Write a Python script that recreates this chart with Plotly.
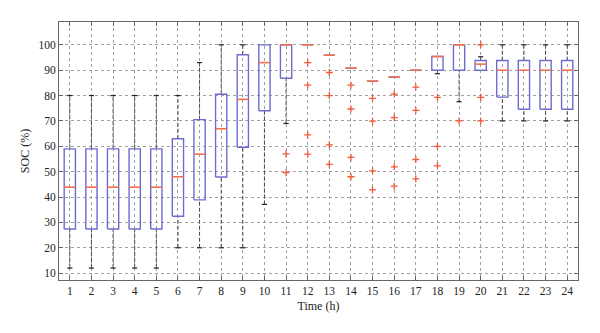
import plotly.graph_objects as go

# ---- data ----
hours = list(range(1, 25))
q1 = [27.4, 27.4, 27.4, 27.4, 27.4, 32.4, 38.9, 47.9, 59.6, 74.0, 86.8, 100.0,
      95.9, 90.8, 85.7, 87.3, 90.0, 90.0, 90.0, 90.0, 79.4, 74.6, 74.6, 74.6]
medians = [43.9, 43.9, 43.9, 43.9, 43.9, 48.0, 56.9, 66.9, 78.5, 93.0, 100.0, 100.0,
           95.9, 90.8, 85.7, 87.3, 90.0, 95.4, 100.0, 92.4, 90.0, 90.0, 90.0, 90.0]
q3 = [59.0, 59.0, 59.0, 59.0, 59.0, 63.0, 70.5, 80.5, 96.1, 100.0, 100.0, 100.0,
      95.9, 90.8, 85.7, 87.3, 90.0, 95.4, 100.0, 93.8, 93.8, 93.8, 93.8, 93.8]
lower_whisker = [12.0, 12.0, 12.0, 12.0, 12.0, 20.0, 20.0, 20.0, 20.0, 37.1, 69.0, 100.0,
                 95.9, 90.8, 85.7, 87.3, 90.0, 88.6, 77.6, 90.0, 70.0, 70.0, 70.0, 70.0]
upper_whisker = [80.0, 80.0, 80.0, 80.0, 80.0, 80.0, 93.0, 100.0, 100.0, 100.0, 100.0, 100.0,
                 95.9, 90.8, 85.7, 87.3, 90.0, 95.4, 100.0, 95.3, 100.0, 100.0, 100.0, 100.0]
outlier_hours = [11, 11,
                 12, 12, 12, 12,
                 13, 13, 13, 13,
                 14, 14, 14, 14,
                 15, 15, 15, 15,
                 16, 16, 16, 16,
                 17, 17, 17, 17,
                 18, 18, 18,
                 19,
                 20, 20, 20]
outlier_values = [57.0, 49.6,
                  93.0, 84.1, 64.5, 56.9,
                  89.1, 80.0, 60.6, 52.9,
                  84.1, 74.7, 55.6, 48.0,
                  78.9, 69.9, 50.3, 42.8,
                  80.6, 71.3, 51.9, 44.3,
                  83.3, 74.2, 54.8, 47.2,
                  79.3, 60.0, 52.3,
                  70.0,
                  100.0, 79.3, 70.0]
y_ticks = [10, 20, 30, 40, 50, 60, 70, 80, 90, 100]

# ---- styling ----
BOX_COLOR = "#6c6cd0"
MED_COLOR = "#f2704e"
OUT_COLOR = "#f25a3a"
WHISK_COLOR = "#4a4a4a"
half_w = 0.26
cap_w = 0.12
FONT = "Liberation Serif"

# build segments
wx, wy = [], []
cx, cy = [], []
bx, by = [], []
mx, my = [], []
for h, a, m, b, lo, hi in zip(hours, q1, medians, q3, lower_whisker, upper_whisker):
    if lo < a:
        wx += [h, h, None]; wy += [lo, a, None]
        cx += [h - cap_w, h + cap_w, None]; cy += [lo, lo, None]
    if hi > b:
        wx += [h, h, None]; wy += [b, hi, None]
        cx += [h - cap_w, h + cap_w, None]; cy += [hi, hi, None]
    bx += [h - half_w, h + half_w, h + half_w, h - half_w, h - half_w, None]
    by += [a, a, b, b, a, None]
    mx += [h - half_w, h + half_w, None]; my += [m, m, None]

fig = go.Figure()
fig.add_trace(go.Scatter(x=wx, y=wy, mode="lines",
                         line=dict(color=WHISK_COLOR, width=1, dash="4px,2px"),
                         hoverinfo="skip", showlegend=False))
fig.add_trace(go.Scatter(x=cx, y=cy, mode="lines",
                         line=dict(color="#222222", width=1.2),
                         hoverinfo="skip", showlegend=False))
fig.add_trace(go.Scatter(x=bx, y=by, mode="lines",
                         line=dict(color=BOX_COLOR, width=1.4),
                         hoverinfo="skip", showlegend=False))
fig.add_trace(go.Scatter(x=mx, y=my, mode="lines",
                         line=dict(color=MED_COLOR, width=1.6),
                         hoverinfo="skip", showlegend=False))
fig.add_trace(go.Scatter(x=outlier_hours, y=outlier_values, mode="markers",
                         marker=dict(symbol="cross-thin", size=5, color=OUT_COLOR,
                                     line=dict(width=1.3, color=OUT_COLOR)),
                         hoverinfo="skip", showlegend=False))

axis_common = dict(
    showline=True, linecolor="#666666", linewidth=1, mirror="ticks",
    ticks="inside", ticklen=4, tickcolor="#666666",
    showgrid=True, gridcolor="#a0a0a0", griddash="dot", gridwidth=1,
    zeroline=False,
    tickfont=dict(family=FONT, size=11.5, color="#222222"),
)

fig.update_layout(
    width=600, height=333,
    margin=dict(l=59, r=22, t=22, b=53),
    paper_bgcolor="white", plot_bgcolor="white",
    font=dict(family=FONT, color="#222222"),
    xaxis=dict(range=[0.5, 24.5], tickmode="array", tickvals=hours,
               ticktext=[str(h) for h in hours],
               title=dict(text="Time (h)", font=dict(family=FONT, size=12), standoff=5),
               **axis_common),
    yaxis=dict(range=[7.3, 109], tickmode="array", tickvals=y_ticks,
               ticktext=[str(v) for v in y_ticks],
               title=dict(text="SOC (%)", font=dict(family=FONT, size=12), standoff=6),
               **axis_common),
)

fig.write_html("out.html")
